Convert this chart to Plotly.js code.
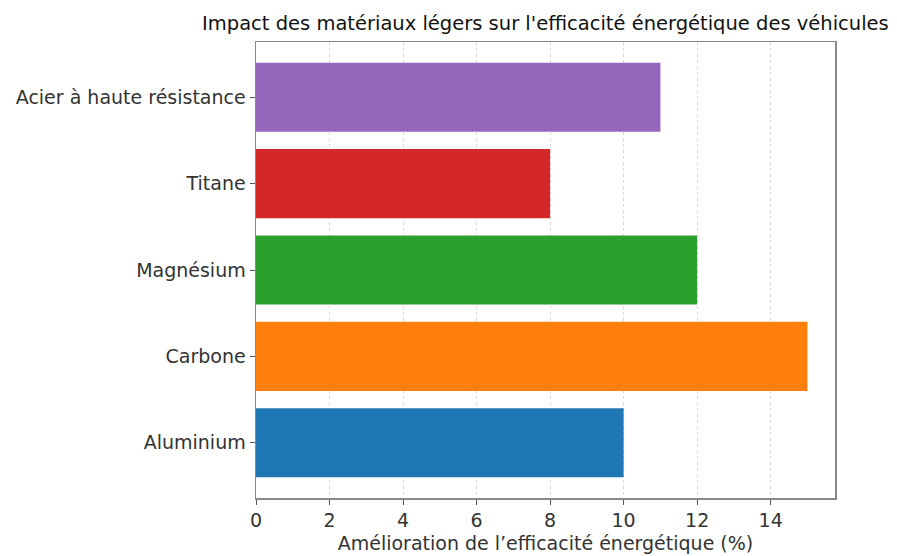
<!DOCTYPE html>
<html>
<head>
<meta charset="utf-8">
<script src="https://cdn.plot.ly/plotly-3.0.1.min.js"></script>
<style>html,body{margin:0;padding:0;background:#fff;}#chart{width:897px;height:556px;}</style>
</head>
<body>
<div id="chart"></div>
<script>
const materials = ["Aluminium", "Carbone", "Magnésium", "Titane", "Acier à haute résistance"];
const improvement = [10, 15, 12, 8, 11];
const colors = ["#1f77b4", "#ff7f0e", "#2ca02c", "#d62728", "#9467bd"];
const xTicks = [0, 2, 4, 6, 8, 10, 12, 14];

const font = "'DejaVu Sans', sans-serif";
Plotly.newPlot("chart", [{
  type: "bar",
  orientation: "h",
  y: materials,
  x: improvement,
  marker: {color: colors},
  width: 0.8,
  hoverinfo: "none"
}], {
  width: 897, height: 556,
  margin: {l: 256, r: 62, t: 42, b: 58},
  paper_bgcolor: "#fff", plot_bgcolor: "#fff",
  font: {family: font, color: "#222", size: 19},
  title: {text: "Impact des matériaux légers sur l'efficacité énergétique des véhicules",
          font: {size: 19.5, color: "#111"}, x: 0.608, xanchor: "center", y: 0.958, yanchor: "middle"},
  xaxis: {
    range: [0, 15.75], tickvals: xTicks, ticktext: xTicks.map(String),
    showgrid: true, gridcolor: "#d9d9d9", griddash: "dot", gridwidth: 1,
    zeroline: false, showline: true, linecolor: "#888", linewidth: 1.5, mirror: true,
    ticks: "outside", ticklen: 5, tickcolor: "#555",
    tickfont: {size: 19, color: "#333"},
    title: {text: "Amélioration de l’efficacité énergétique (%)", font: {size: 19, color: "#333"}, standoff: 6}
  },
  yaxis: {
    range: [-0.64, 4.64], showgrid: false, zeroline: false,
    showline: true, linecolor: "#888", linewidth: 1.5, mirror: true,
    ticks: "outside", ticklen: 5, tickcolor: "#555",
    tickfont: {size: 19, color: "#333"}
  },
  bargap: 0.2, showlegend: false
}, {staticPlot: true});
</script>
</body>
</html>
